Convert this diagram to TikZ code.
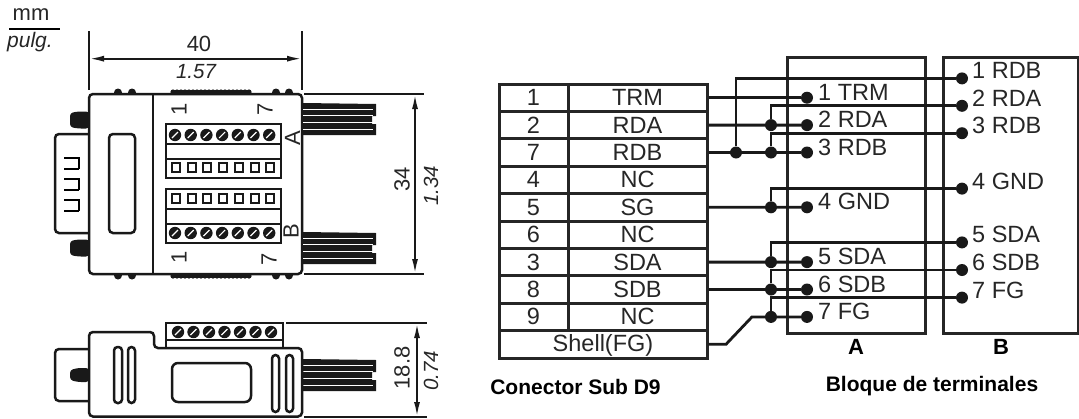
\documentclass[tikz,border=0pt]{standalone}
\usepackage{fontspec}
\setmainfont{Liberation Sans}
\usetikzlibrary{arrows.meta}
\tikzset{
    txt/.style={inner sep=0pt,text=black!85,font=\fontsize{22}{22}\selectfont},
    pintxt/.style={inner sep=0pt,text=black!85,font=\fontsize{23.5}{24}\selectfont},
    italictxt/.style={inner sep=0pt,text=black!85,font=\fontsize{20.5}{22}\selectfont\itshape},
    boldtxt/.style={inner sep=0pt,font=\fontsize{21}{22}\selectfont\bfseries},
    outline/.style={line width=2.5pt,black!90,rounded corners=4pt},
    blockline/.style={line width=2.3pt,black!90},
    dimline/.style={line width=2pt,black!90},
    cell/.style={draw=black!85,line width=3pt,minimum height=27.4pt,inner sep=0pt,pintxt},
    term/.style={circle,fill=black!90,inner sep=0pt,minimum size=12pt},
    joint/.style={circle,fill=black!90,inner sep=0pt,minimum size=12pt},
    wire/.style={line width=2.8pt,black!90},
    boxline/.style={line width=3pt,black!85},
    >={Latex[length=15pt,width=6pt]}
}
\begin{document}
\begin{tikzpicture}[x=1pt,y=-1pt]
    \useasboundingbox (0,0) rectangle (1079,418);

    % Units
    \node[txt] (mm) at (31,15) {mm};
    \node[italictxt,font=\fontsize{21}{22}\selectfont\itshape] (pulg) at (30,42) {pulg.};
    \draw[line width=2pt] (9,29) -- (60,29);

    % Bumps and knurled strips
    \foreach \x in {118,132,276,289} {
        \fill[black!90] (\x,92.5) circle (4pt);
        \fill[black!90] (\x,275.5) circle (4pt);
    }
    \foreach \x in {173,177,...,249} {
        \fill[black!90] (\x,92) circle (2.6pt);
        \fill[black!90] (\x,276) circle (2.6pt);
    }
    % Top view body
    \draw[outline,fill=white] (302,94) -- (89,94) -- (89,274) -- (302,274) -- cycle;
    \draw[outline] (89,134) -- (55,134) -- (55,233) -- (89,233);
    \draw[outline] (109,134) rectangle (135,233);
    \draw[outline] (153,94) -- (153,274);
    % Top view fixing screws
    \foreach \y in {120,248} {
        \fill[black!90,rounded corners=3pt] (70,\y-7) -- (78,\y-8.5) -- (89,\y-8.5) -- (89,\y+8.5) -- (78,\y+8.5) -- (70,\y+7) -- cycle;
    }
    % Top view pins
    \foreach \y in {158,179,200} {
        \draw[line width=2.4pt] (64,\y) -- (79,\y) -- (79,\y+11);
        \draw[line width=2.4pt] (64,\y+11) -- (79,\y+11);
    }

    % Terminal blocks
    \draw[blockline] (166,124) rectangle (281,178);
    \draw[blockline] (166,144) -- (281,144);
    \draw[blockline] (166,159) -- (281,159);
    \draw[blockline] (166,189) rectangle (281,243);
    \draw[blockline] (166,209) -- (281,209);
    \draw[blockline] (166,224) -- (281,224);
    \foreach \x in {0,1,...,6} {
        \fill[black!90] (175+15.7*\x,135) circle (6.2pt);
        \draw[white,line width=1.2pt] (172+15.7*\x,138) -- (178+15.7*\x,132);
        \draw[line width=2pt,black!90] (172+15.7*\x,163) rectangle (180+15.7*\x,172);
        \draw[line width=2pt,black!90] (172+15.7*\x,194) rectangle (180+15.7*\x,203);
        \fill[black!90] (175+15.7*\x,233) circle (6.2pt);
        \draw[white,line width=1.2pt] (172+15.7*\x,236) -- (178+15.7*\x,230);
    }
    \node[txt,rotate=90] (oneup) at (179,109) {1};
    \node[txt,rotate=90] (sevenup) at (265,109) {7};
    \node[txt,rotate=90] (onedown) at (179,257) {1};
    \node[txt,rotate=90] (sevendown) at (269,259) {7};
    \node[txt,rotate=90] (blockA) at (292.5,138) {A};
    \node[txt,rotate=90] (blockB) at (291,231) {B};

    % Cables
    \foreach \x/\y in {303/103,303/232,303/359} {
        \fill[black!90] (\x,\y) -- (\x+73,\y+1) -- (\x+73,\y+13) -- (\x+69,\y+13) -- (\x+69,\y+21) -- (\x+73,\y+21) -- (\x+73,\y+32) -- (\x,\y+32) -- cycle;
        \foreach \s in {6,12,19,26} {
            \draw[white,line width=1pt] (\x,\y+\s) -- (\x+70,\y+\s);
        }
    }

    % Width dimension
    \draw[dimline,line width=2.4pt] (89,31) -- (89,90);
    \draw[dimline,line width=2.4pt] (302,31) -- (302,90);
    \draw[dimline,<->] (89,58.7) -- (302,58.7);
    \node[txt] (w) at (199,44) {40};
    \node[italictxt] (wi) at (196,72) {1.57};

    % Height dimension
    \draw[dimline] (304,94) -- (424,94);
    \draw[dimline] (304,274) -- (424,274);
    \draw[dimline,<->] (415,94) -- (415,274);
    \node[txt,rotate=90] (h) at (402,179) {34};
    \node[italictxt,rotate=90] (hi) at (431,186) {1.34};

    % Side view body
    \draw[outline,fill=white] (89,416.5) -- (89,332) -- (154,332) -- (154,348) -- (302,348) -- (302,416.5) -- cycle;
    \draw[outline] (89,349) -- (55,349) -- (55,401) -- (89,401);
    \fill[black!90,rounded corners=3pt] (70,370) -- (78,368) -- (89,368) -- (89,382) -- (78,382) -- (70,380) -- cycle;
    \draw[blockline] (166,348) -- (166,323) -- (283,323) -- (283,348);
    \draw[blockline] (166,340) -- (283,340);
    \foreach \x in {0,1,...,6} {
        \fill[black!90] (178+15.5*\x,332) circle (6.2pt);
        \draw[white,line width=1.2pt] (175+15.5*\x,335) -- (181+15.5*\x,329);
    }
    \draw[outline,rounded corners=3.5pt] (114,347) rectangle (122,403);
    \draw[outline,rounded corners=3.5pt] (128,347) rectangle (135,403);
    \draw[outline,rounded corners=6pt] (172,363) rectangle (251,402);
    \draw[outline,rounded corners=3.5pt] (272,355) rectangle (279,412);
    \draw[outline,rounded corners=3.5pt] (286,355) rectangle (293,412);

    % Side dimension
    \draw[dimline] (286,323) -- (427,323);
    \draw[dimline] (304,417) -- (427,417);
    \draw[dimline,<->] (417,323) -- (417,417);
    \node[txt,rotate=90] (d) at (402,368) {18.8};
    \node[italictxt,rotate=90] (di) at (431,371) {0.74};

    % Connector table
    \foreach \n/\t [count=\i from 0] in {1/TRM,2/RDA,7/RDB,4/NC,5/SG,6/NC,3/SDA,8/SDB,9/NC} {
        \node[cell,minimum width=69pt] (num\n) at (533.5,97.7+27.4*\i) {\n};
        \node[cell,minimum width=139pt] (row\n) at (637.5,97.7+27.4*\i) {\t};
    }
    \node[cell,minimum width=208pt] (rowS) at (603,344.3) {};
    \node[pintxt] (shell) at (603,345.5) {Shell(FG)};
    \node[boldtxt] (dsub) at (575.5,387) {Conector Sub D9};

    % Terminal boxes
    \draw[boxline] (787,57) rectangle (925,333);
    \draw[boxline] (943,57) rectangle (1078,333);
    \node[boldtxt,font=\fontsize{22}{22}\selectfont\bfseries] (labelA) at (856,347) {A};
    \node[boldtxt,font=\fontsize{22}{22}\selectfont\bfseries] (labelB) at (1001,347) {B};
    \node[boldtxt] (bloque) at (932,386) {Bloque de terminales};

    % Terminals A
    \foreach \n/\y/\t in {1/97.7/1 TRM,2/125.1/2 RDA,3/152.5/3 RDB,4/207.3/4 GND,5/262.1/5 SDA,6/289.5/6 SDB,7/316.9/7 FG} {
        \node[term] (a\n) at (807,\y) {};
        \node[pintxt,anchor=west] (ta\n) at (818,\y-5.5) {\t};
    }
    % Terminals B
    \foreach \n/\y/\t in {1/78.4/1 RDB,2/105.8/2 RDA,3/133.2/3 RDB,4/188.6/4 GND,5/242.4/5 SDA,6/270/6 SDB,7/297.6/7 FG} {
        \node[term] (b\n) at (962,\y) {};
        \node[pintxt,anchor=west] (tb\n) at (972,\y-7.5) {\t};
    }

    % Junctions
    \node[joint] (j0) at (736,152.5) {};
    \node[joint] (j2) at (771,125.1) {};
    \node[joint] (j3) at (771,152.5) {};
    \node[joint] (j4) at (771,207.3) {};
    \node[joint] (j5) at (771,262.1) {};
    \node[joint] (j6) at (771,289.5) {};
    \node[joint] (j7) at (771,316.9) {};
    \coordinate (s1) at (726,344.3);
    \coordinate (s2) at (752,316.9);

    % Wires
    \draw[wire] (row1.east) -- (a1);
    \draw[wire] (row2.east) -- (a2);
    \draw[wire] (row7.east) -- (a3);
    \draw[wire] (row5.east) -- (a4);
    \draw[wire] (row3.east) -- (a5);
    \draw[wire] (row8.east) -- (a6);
    \draw[wire] (rowS.east) -- (s1) -- (s2) -- (a7);
    \draw[wire] (j0) |- (b1);
    \foreach \n in {2,...,7} {
        \draw[wire] (j\n) |- (b\n);
    }
\end{tikzpicture}
\end{document}
